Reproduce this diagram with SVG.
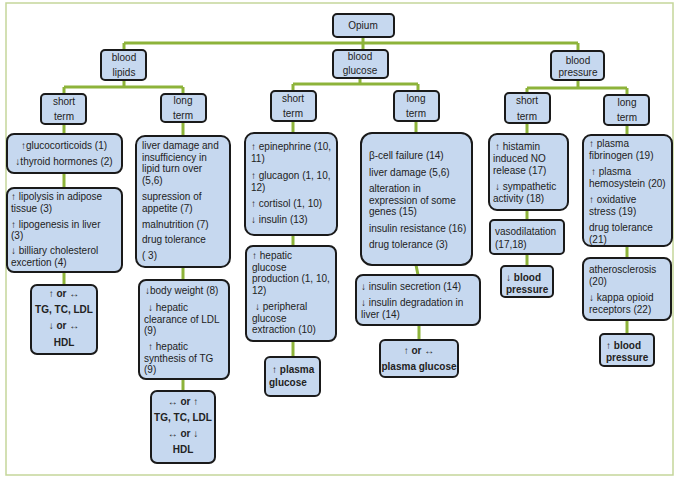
<svg xmlns="http://www.w3.org/2000/svg" width="678" height="479" viewBox="0 0 678 479">
<style>
.n{fill:#c6d8ef;stroke:#1a1a1a;stroke-width:2}
text{font-family:"Liberation Sans",Arial,sans-serif;font-size:10px;fill:#222}
.c{text-anchor:middle}
.b{font-weight:bold}
#connectors path{stroke:#8db33a;stroke-width:3;fill:none}
</style>
<rect x="6" y="3" width="667" height="472" fill="#fff" stroke="#c5d69a" stroke-width="1.5"/>
<g id="connectors">
<path d="M363 37V43M124 43H578M124 43V50M363 43V50M578 43V51"/>
<path d="M124 80V87M64 87H183M64 87V94M183 87V94"/>
<path d="M360 78V84M293 84H418M293 84V91M418 84V91"/>
<path d="M578 80V88M527 88H627M527 88V93M627 88V95"/>
<path d="M64 124V134M64 173V188M64 272V285"/>
<path d="M183 122V136M183 267V280M183 379V391"/>
<path d="M293 121V133M293 235V246M293 341V357"/>
<path d="M416 121V133M416 265L418 275M419 325V340"/>
<path d="M527 123V134M527 210V220M527 254V266"/>
<path d="M627 125V135M627 246V258M627 320V334"/>
</g>
<g id="opium"><rect class="n" x="333" y="14" width="61" height="23" rx="4"/><text class="c" x="363" y="29">Opium</text></g>
<g id="lipids"><rect class="n" x="101" y="50" width="45" height="30" rx="4"/><text class="c" x="124" y="61">blood</text><text class="c" x="124" y="76">lipids</text></g>
<g id="glucose"><rect class="n" x="333" y="50" width="55" height="28" rx="4"/><text class="c" x="360" y="60">blood</text><text class="c" x="360" y="74">glucose</text></g>
<g id="pressure"><rect class="n" x="551" y="51" width="53" height="29" rx="4"/><text class="c" x="578" y="64">blood</text><text class="c" x="578" y="76">pressure</text></g>
<g id="l-short"><rect class="n" x="41" y="94" width="45" height="30" rx="4"/><text class="c" x="64" y="105">short</text><text class="c" x="64" y="120">term</text></g>
<g id="l-long"><rect class="n" x="161" y="94" width="45" height="28" rx="4"/><text class="c" x="183" y="104">long</text><text class="c" x="183" y="119">term</text></g>
<g id="g-short"><rect class="n" x="271" y="91" width="45" height="30" rx="4"/><text class="c" x="293" y="102">short</text><text class="c" x="293" y="117">term</text></g>
<g id="g-long"><rect class="n" x="394" y="91" width="45" height="30" rx="4"/><text class="c" x="416" y="102">long</text><text class="c" x="416" y="117">term</text></g>
<g id="p-short"><rect class="n" x="505" y="93" width="45" height="30" rx="4"/><text class="c" x="527" y="104">short</text><text class="c" x="527" y="120">term</text></g>
<g id="p-long"><rect class="n" x="604" y="95" width="45" height="30" rx="4"/><text class="c" x="627" y="106">long</text><text class="c" x="627" y="121">term</text></g>

<g id="ls1"><rect class="n" x="7" y="134" width="115" height="39" rx="7"/><text class="c" x="64" y="149">↑glucocorticoids (1)</text><text class="c" x="64" y="165">↓thyroid hormones (2)</text></g>
<g id="ls2"><rect class="n" x="7" y="188" width="115" height="84" rx="7"/>
<text x="11" y="200">↑  lipolysis in adipose</text><text x="11" y="212">tissue (3)</text><text x="11" y="228">↑  lipogenesis in liver</text><text x="11" y="239">(3)</text><text x="11" y="254">↓  billiary cholesterol</text><text x="11" y="266">excertion (4)</text></g>
<g id="ls3"><rect class="n" x="31" y="285" width="66" height="69" rx="6"/>
<text class="c b" x="64" y="297">↑  or ↔</text><text class="c b" x="64" y="313">TG, TC, LDL</text><text class="c b" x="64" y="329">↓  or ↔</text><text class="c b" x="64" y="346">HDL</text></g>

<g id="ll1"><rect class="n" x="136" y="136" width="94" height="131" rx="9"/>
<text x="142" y="149">liver damage  and</text><text x="142" y="161">insufficiency in</text><text x="142" y="172">lipid turn over</text><text x="142" y="184">(5,6)</text><text x="142" y="200">supression of</text><text x="142" y="212">appetite (7)</text><text x="142" y="228">malnutrition (7)</text><text x="142" y="243">drug tolerance</text><text x="142" y="259">( 3)</text></g>
<g id="ll2"><rect class="n" x="139" y="280" width="90" height="99" rx="7"/>
<text x="145" y="294">↓body weight (8)</text><text x="148" y="311">↓  hepatic</text><text x="144" y="323">clearance  of LDL</text><text x="144" y="334">(9)</text><text x="148" y="350">↑  hepatic</text><text x="144" y="362">synthesis of TG</text><text x="144" y="373">(9)</text></g>
<g id="ll3"><rect class="n" x="151" y="391" width="64" height="72" rx="6"/>
<text class="c b" x="183" y="405">↔  or ↑</text><text class="c b" x="183" y="421">TG, TC, LDL</text><text class="c b" x="183" y="437">↔  or ↓</text><text class="c b" x="183" y="453">HDL</text></g>

<g id="gs1"><rect class="n" x="245" y="133" width="92" height="102" rx="9"/>
<text x="251" y="150">↑ epinephrine (10,</text><text x="251" y="162">11)</text><text x="251" y="179">↑ glucagon (1, 10,</text><text x="251" y="191">12)</text><text x="251" y="207">↑ cortisol (1, 10)</text><text x="251" y="223">↓ insulin (13)</text></g>
<g id="gs2"><rect class="n" x="246" y="246" width="90" height="95" rx="7"/>
<text x="252" y="259">↑ hepatic</text><text x="252" y="271">glucose</text><text x="252" y="282">production (1, 10,</text><text x="252" y="294">12)</text><text x="255" y="310">↓ peripheral</text><text x="252" y="322">glucose</text><text x="252" y="333">extraction (10)</text></g>
<g id="gs3"><rect class="n" x="265" y="357" width="55" height="39" rx="5"/>
<text class="b" x="272" y="373">↑ plasma</text><text class="b" x="269" y="386">glucose</text></g>

<g id="gl1"><rect class="n" x="361" y="133" width="111" height="132" rx="11"/>
<text x="369" y="159">β-cell  failure (14)</text><text x="369" y="176">liver damage (5,6)</text><text x="369" y="192">alteration in</text><text x="369" y="204">expression of some</text><text x="369" y="215">genes (15)</text><text x="369" y="232">insulin resistance  (16)</text><text x="369" y="248">drug tolerance (3)</text></g>
<g id="gl2"><rect class="n" x="356" y="275" width="124" height="50" rx="7"/>
<text x="361" y="290">↓   insulin secretion (14)</text><text x="361" y="306">↓  insulin degradation in</text><text x="361" y="318">liver (14)</text></g>
<g id="gl3"><rect class="n" x="380" y="340" width="78" height="37" rx="5"/>
<text class="c b" x="419" y="354">↑  or  ↔</text><text class="c b" x="419" y="370">plasma  glucose</text></g>

<g id="ps1"><rect class="n" x="489" y="134" width="79" height="76" rx="8"/>
<text x="495" y="150">↑  histamin</text><text x="493" y="162">induced NO</text><text x="493" y="174">release (17)</text><text x="495" y="190">↓  sympathetic</text><text x="493" y="202">activity (18)</text></g>
<g id="ps2"><rect class="n" x="490" y="220" width="74" height="34" rx="4"/>
<text x="495" y="235">vasodilatation</text><text x="495" y="248">(17,18)</text></g>
<g id="ps3"><rect class="n" x="501" y="266" width="52" height="31" rx="4"/>
<text class="b" x="506" y="281">↓  blood</text><text class="b" x="506" y="293">pressure</text></g>

<g id="pl1"><rect class="n" x="583" y="135" width="89" height="111" rx="8"/>
<text x="589" y="147">↑  plasma</text><text x="589" y="159">fibrinogen (19)</text><text x="591" y="175">↑ plasma</text><text x="589" y="187">hemosystein (20)</text><text x="589" y="203">↑  oxidative</text><text x="589" y="215">stress (19)</text><text x="589" y="231">drug tolerance</text><text x="589" y="243">(21)</text></g>
<g id="pl2"><rect class="n" x="583" y="258" width="88" height="62" rx="7"/>
<text x="589" y="273">atherosclerosis</text><text x="589" y="285">(20)</text><text x="589" y="301">↓ kappa opioid</text><text x="589" y="313">receptors (22)</text></g>
<g id="pl3"><rect class="n" x="600" y="334" width="54" height="32" rx="4"/>
<text class="b" x="606" y="349">↑ blood</text><text class="b" x="606" y="361">pressure</text></g>
</svg>
